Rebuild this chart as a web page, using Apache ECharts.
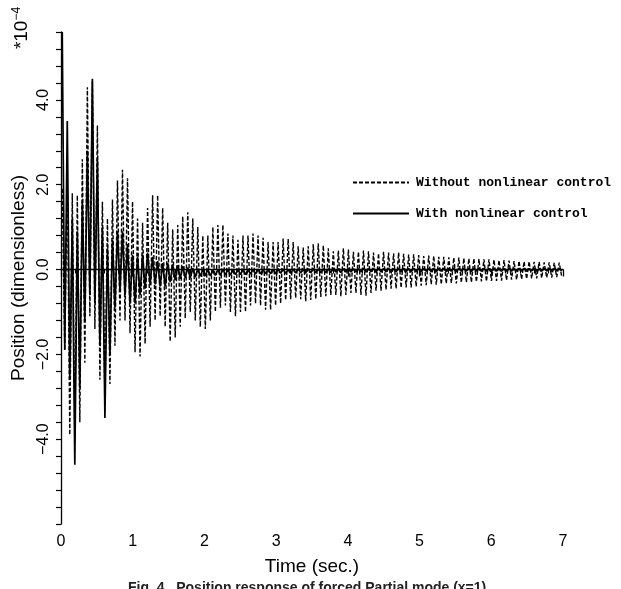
<!DOCTYPE html>
<html>
<head>
<meta charset="utf-8">
<script src="https://cdn.jsdelivr.net/npm/echarts@6/dist/echarts.min.js"></script>
<style>
html,body{margin:0;padding:0;background:#fff;}
#chart{width:621px;height:589px;}
</style>
</head>
<body>
<div id="chart"></div>
<script>
// ---- data (values in units of 1e-4), one entry per oscillation cycle of 0.07 s ----
const seriesNames = ['Without nonlinear control', 'With nonlinear control'];
const cycleLength = 0.07; // seconds per oscillation cycle (sampling grid)

const withoutPeaks = [
  1.9, 2.4, 1.8, 1.75, 2.6, 4.3, 4.45, 3.4, 1.6, 1.2,
  1.65, 2.1, 2.35, 2.15, 1.6, 1.2, 1.1, 1.45, 1.75, 1.75,
  1.45, 1.1, 0.95, 1.05, 1.25, 1.35, 1.2, 1.0, 0.8, 0.8,
  1.0, 1.05, 1.05, 0.85, 0.8, 0.7, 0.8, 0.8, 0.85, 0.8,
  0.75, 0.65, 0.65, 0.65, 0.73, 0.72, 0.65, 0.55, 0.52, 0.55,
  0.6, 0.62, 0.57, 0.5, 0.43, 0.45, 0.5, 0.47, 0.42, 0.42,
  0.45, 0.43, 0.4, 0.38, 0.42, 0.4, 0.38, 0.4, 0.37, 0.35,
  0.36, 0.34, 0.32, 0.33, 0.32, 0.3, 0.3, 0.29, 0.28, 0.28,
  0.27, 0.26, 0.26, 0.25, 0.24, 0.24, 0.23, 0.22, 0.22, 0.21,
  0.2, 0.2, 0.19, 0.19, 0.18, 0.18, 0.17, 0.17, 0.16, 0.16
];
const withoutTroughs = [
  -1.9, -3.9, -4.0, -3.6, -2.2, -1.1, -1.4, -2.6, -3.1, -2.7,
  -1.8, -1.2, -1.2, -1.5, -1.95, -2.05, -1.75, -1.35, -1.2, -1.1,
  -1.35, -1.7, -1.6, -1.35, -1.15, -1.0, -1.2, -1.35, -1.4, -1.2,
  -1.0, -0.9, -0.85, -1.0, -1.1, -1.0, -1.0, -0.85, -0.8, -0.85,
  -0.95, -0.95, -0.85, -0.8, -0.72, -0.7, -0.67, -0.7, -0.75, -0.72,
  -0.7, -0.65, -0.63, -0.6, -0.6, -0.63, -0.6, -0.55, -0.55, -0.6,
  -0.62, -0.55, -0.5, -0.5, -0.48, -0.45, -0.45, -0.43, -0.42, -0.42,
  -0.4, -0.38, -0.37, -0.35, -0.36, -0.35, -0.33, -0.32, -0.33, -0.31,
  -0.3, -0.3, -0.29, -0.28, -0.28, -0.27, -0.27, -0.26, -0.25, -0.24,
  -0.24, -0.23, -0.22, -0.21, -0.21, -0.2, -0.19, -0.19, -0.18, -0.17
];
const withPeaks = [
  5.6, 3.5, 1.2, 0.9, 1.6, 2.8, 4.5, 2.6, 1.0, 0.5,
  0.7, 0.9, 0.9, 0.6, 0.35, 0.3, 0.35, 0.4, 0.3, 0.2,
  0.15, 0.15, 0.12, 0.1, 0.08, 0.05, 0.03, 0.02, 0.0, 0.0,
  -0.02, 0.0, 0.01, 0.0, -0.01, 0.0, 0.01, 0.0, 0.0, 0.01,
  0.0, 0.0, 0.01, 0.02, 0.01, 0.0, 0.01, 0.02, 0.01, 0.02,
  0.02, 0.01, 0.02, 0.02, 0.03, 0.02, 0.02, 0.03, 0.02, 0.02,
  0.03, 0.02, 0.03, 0.03, 0.02, 0.03, 0.02, 0.03, 0.03, 0.02,
  0.03, 0.03, 0.02, 0.03, 0.03, 0.02, 0.03, 0.02, 0.03, 0.03,
  0.02, 0.03, 0.03, 0.02, 0.03, 0.02, 0.03, 0.03, 0.02, 0.03,
  0.02, 0.03, 0.03, 0.02, 0.03, 0.02, 0.03, 0.02, 0.03, 0.02
];
const withTroughs = [
  -1.9, -2.6, -4.6, -2.8, -1.2, -0.6, -0.8, -1.8, -3.5, -2.0,
  -0.9, -0.5, -0.6, -0.8, -0.8, -0.6, -0.45, -0.35, -0.35, -0.4,
  -0.4, -0.3, -0.25, -0.22, -0.2, -0.2, -0.18, -0.16, -0.15, -0.15,
  -0.14, -0.14, -0.13, -0.13, -0.12, -0.12, -0.12, -0.11, -0.11, -0.1,
  -0.1, -0.1, -0.1, -0.09, -0.09, -0.09, -0.08, -0.08, -0.08, -0.08,
  -0.07, -0.07, -0.07, -0.07, -0.06, -0.07, -0.06, -0.06, -0.06, -0.06,
  -0.06, -0.05, -0.06, -0.05, -0.05, -0.06, -0.05, -0.05, -0.05, -0.05,
  -0.05, -0.05, -0.04, -0.05, -0.05, -0.04, -0.05, -0.04, -0.05, -0.04,
  -0.04, -0.05, -0.04, -0.04, -0.04, -0.05, -0.04, -0.04, -0.04, -0.04,
  -0.04, -0.04, -0.04, -0.03, -0.04, -0.04, -0.03, -0.04, -0.03, -0.03
];
const xTickLabels = ['0', '1', '2', '3', '4', '5', '6', '7'];
const yTickLabels = {'-4': '\u22124.0', '-2': '\u22122.0', '0': '0.0', '2': '2.0', '4': '4.0'};

function buildPoints(peaks, troughs) {
  const pts = [];
  for (let i = 0; i < peaks.length; i++) {
    pts.push([i * cycleLength + cycleLength * 0.25, peaks[i]]);
    pts.push([i * cycleLength + cycleLength * 0.75, troughs[i]]);
  }
  return pts;
}

const chart = echarts.init(document.getElementById('chart'), null, {renderer: 'canvas'});
const sans = 'Liberation Sans, Arial, sans-serif';
const mono = 'Liberation Mono, Courier New, monospace';

chart.setOption({
  animation: false,
  backgroundColor: '#fff',
  grid: {left: 61, right: 58, top: 32, bottom: 65, containLabel: false},
  legend: {
    orient: 'vertical',
    left: 347,
    top: 171,
    itemWidth: 56,
    itemHeight: 14,
    itemGap: 18,
    itemStyle: {opacity: 0},
    textStyle: {fontFamily: mono, fontSize: 13, fontWeight: 'bold', color: '#000', padding: [0, 0, 0, 2]},
    data: seriesNames
  },
  xAxis: {
    type: 'value',
    min: 0, max: 7, interval: 1,
    name: 'Time (sec.)',
    nameLocation: 'middle',
    nameGap: 33,
    nameTextStyle: {fontFamily: sans, fontSize: 19, color: '#000'},
    axisLine: {lineStyle: {color: '#000', width: 1.3}},
    axisTick: {show: true, length: 7, lineStyle: {color: '#000', width: 1.3}},
    minorTick: {show: true, splitNumber: 5, length: 4, lineStyle: {color: '#000', width: 1.1}},
    splitLine: {show: false},
    axisLabel: {
      fontFamily: sans, fontSize: 16, color: '#000', margin: 10,
      formatter: v => xTickLabels[Math.round(v)] ?? ''
    }
  },
  yAxis: {
    type: 'value',
    min: -6, max: 5.6, interval: 0.4,
    name: 'Position (dimensionless)',
    nameLocation: 'middle',
    nameRotate: 90,
    nameGap: 31,
    nameTextStyle: {fontFamily: sans, fontSize: 19, color: '#000'},
    axisLine: {onZero: false, lineStyle: {color: '#000', width: 1.3}},
    axisTick: {show: true, length: 5, lineStyle: {color: '#000', width: 1.2}},
    splitLine: {show: false},
    axisLabel: {
      rotate: 90, fontFamily: sans, fontSize: 16, color: '#000', margin: 9,
      formatter: v => {
        const k = String(Math.round(v));
        return Math.abs(v - Math.round(v)) < 1e-6 && yTickLabels[k] ? yTickLabels[k] : '';
      }
    }
  },
  graphic: [
    {
      type: 'text',
      x: 22, y: 28,
      rotation: Math.PI / 2,
      style: {
        text: '{m|*10}{s|\u22124}',
        align: 'center', verticalAlign: 'middle',
        fill: '#000',
        rich: {
          m: {fontFamily: sans, fontSize: 19, fill: '#000'},
          s: {fontFamily: sans, fontSize: 12, fill: '#000', verticalAlign: 'top', padding: [0, 0, 10, 0]}
        }
      }
    },
    {
      type: 'text',
      left: 128, top: 581,
      style: {
        text: 'Fig. 4   Position response of forced Partial mode (x=1)',
        fontFamily: sans, fontSize: 14, fontWeight: 'bold', fill: '#222'
      }
    }
  ],
  series: [
    {
      name: seriesNames[0],
      type: 'line',
      symbol: 'none',
      data: buildPoints(withoutPeaks, withoutTroughs),
      lineStyle: {color: '#000', width: 1.4, type: [4, 2]},
      itemStyle: {color: '#000'},
      z: 2
    },
    {
      name: seriesNames[1],
      type: 'line',
      symbol: 'none',
      data: buildPoints(withPeaks, withTroughs),
      lineStyle: {color: '#000', width: 1.7, type: 'solid'},
      itemStyle: {color: '#000'},
      z: 3
    }
  ]
});
</script>
</body>
</html>
